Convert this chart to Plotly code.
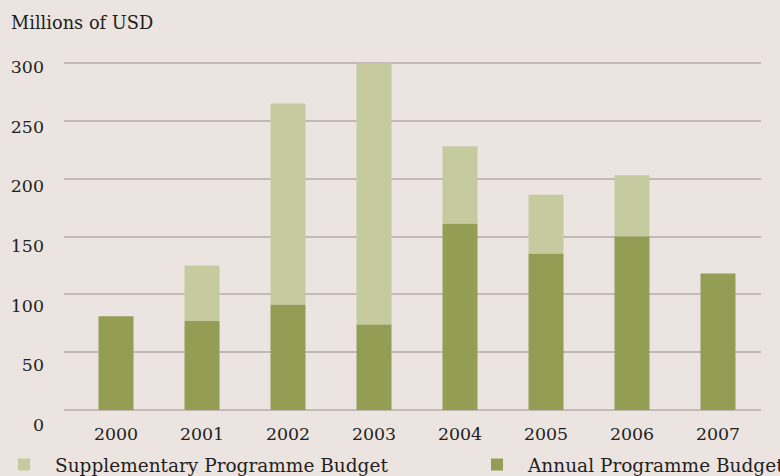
import plotly.graph_objects as go

years = ["2000", "2001", "2002", "2003", "2004", "2005", "2006", "2007"]
annual = [81, 77, 91, 74, 161, 135, 150, 118]
supplementary = [0, 48, 174, 226, 67, 51, 53, 0]
y_ticks = [0, 50, 100, 150, 200, 250, 300]

FONT = "DejaVu Serif"
TXT = "#231F20"
BG = "#ECE4E1"
GRID = "#C5B9B4"

fig = go.Figure()
fig.add_trace(go.Bar(name="Supplementary Programme Budget", x=years, y=supplementary,
                     base=annual, marker=dict(color="#C6CB9F", line=dict(width=0)),
                     legend="legend"))
fig.add_trace(go.Bar(name="Annual Programme Budget", x=years, y=annual,
                     marker=dict(color="#939E54", line=dict(width=0)),
                     legend="legend2"))

# paper spans pixel rows 40..436 (396 px)
H = 396.0
W = 697.0
shift = 3          # label shift (px, downward)
D = 425.0 - shift  # plot-area bottom row
TOP = 63.0         # row of the 300 gridline
DTOP = 61.0        # plot-area top row (a bit above the 300 line so it is drawn)
BASE = 410.0       # row of the 0 baseline
bot = (436 - D) / H
top = (436 - DTOP) / H
s_main = (BASE - TOP) / 300.0
y_lo = -(D - BASE) / s_main
y_hi = 300 + (TOP - DTOP) / s_main
# label axis: 0 -> row 425, 300 -> row 66.7
s_lab = (425 - 66.7) / 300.0
lab_hi = (D - DTOP) / s_lab

leg_common = dict(orientation="h", xanchor="left", yanchor="middle",
                  y=(436 - 465) / H, itemwidth=52,
                  font=dict(family=FONT, size=18.5, color=TXT),
                  bgcolor="rgba(0,0,0,0)")

fig.update_layout(
    width=780, height=476,
    margin=dict(l=64, r=19, t=40, b=40, autoexpand=False),
    paper_bgcolor=BG, plot_bgcolor=BG,
    barmode="overlay", bargap=0.593,
    font=dict(family=FONT, size=17, color=TXT),
    title=dict(text="Millions of USD", x=11/780, xref="container", xanchor="left",
               y=1 - 23/476, yref="container", yanchor="middle",
               font=dict(family=FONT, size=17.8, color=TXT)),
    xaxis=dict(type="category", range=[-0.605, 7.5], showgrid=False, showline=False,
               ticks="", tickfont=dict(family=FONT, size=17.4, color=TXT), anchor="y"),
    yaxis=dict(domain=[bot, top], range=[y_lo, y_hi], tickvals=y_ticks, showticklabels=False,
               showgrid=True, gridcolor=GRID, gridwidth=1.6,
               zeroline=True, zerolinecolor=GRID, zerolinewidth=1.6, showline=False, ticks=""),
    yaxis2=dict(range=[0, lab_hi], overlaying="y", side="left",
                tickmode="array", tickvals=y_ticks, ticktext=[str(v) for v in y_ticks],
                showgrid=False, zeroline=False, showline=False, ticks="",
                ticklabelshift=shift, ticklabelstandoff=19,
                tickfont=dict(family=FONT, size=17.4, color=TXT)),
    legend=dict(x=(-7 - 64) / W, **leg_common),
    legend2=dict(x=(466 - 64) / W, **leg_common),
    showlegend=True,
)
fig.add_trace(go.Scatter(x=[None], y=[None], yaxis="y2", showlegend=False, hoverinfo="skip"))

fig.write_html("out.html", config={"displayModeBar": False},
               post_script="document.body.style.margin='0';")
